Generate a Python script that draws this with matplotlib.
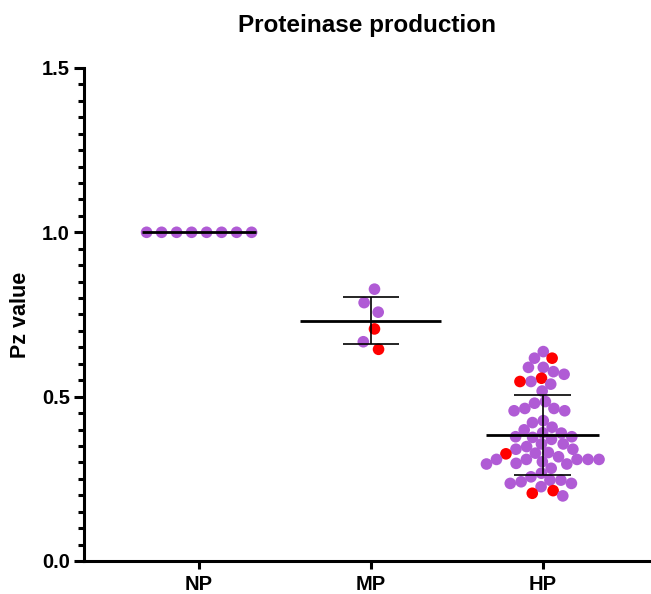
import numpy as np
import matplotlib
matplotlib.use("Agg")
import matplotlib.pyplot as plt
from matplotlib.ticker import MultipleLocator, FormatStrFormatter

plt.rcParams['font.family'] = ['Liberation Sans', 'DejaVu Sans']
plt.rcParams['font.weight'] = 'bold'

groups = ['NP', 'MP', 'HP']

np_purple = [1.0, 1.0, 1.0, 1.0, 1.0, 1.0, 1.0, 1.0]
np_red = []

mp_purple = [0.827, 0.786, 0.757, 0.667]
mp_red = [0.706, 0.644]

hp_purple = [0.637, 0.617, 0.589, 0.589, 0.576, 0.568, 0.546, 0.538, 0.517,
             0.485, 0.480, 0.464, 0.464, 0.457, 0.457, 0.427, 0.421, 0.407,
             0.399, 0.390, 0.389, 0.378, 0.378, 0.376, 0.370,
             0.356, 0.356, 0.348, 0.340, 0.340, 0.330, 0.328, 0.317,
             0.309, 0.309, 0.309, 0.309, 0.309, 0.302, 0.297, 0.295, 0.295, 0.282,
             0.267, 0.256, 0.246, 0.246, 0.241, 0.236, 0.236, 0.226, 0.198]
hp_red = [0.617, 0.556, 0.546, 0.326, 0.214, 0.206]

purple = '#B05BD5'
red = '#FF0000'

data = [(np_purple, np_red), (mp_purple, mp_red), (hp_purple, hp_red)]
spacing_px = [15.0, 17.0, 11.0]     # min distance between dot centres
mean_halfwidth = [0.33, 0.41, 0.33]
cap_halfwidth = 0.165


def swarm_offsets(y_px, d):
    # greedy beeswarm in pixel space, points placed in given order
    placed = []
    for y in y_px:
        cands = [0.0]
        for px, py in placed:
            dy = y - py
            if abs(dy) < d:
                dx = np.sqrt(d * d - dy * dy)
                cands += [px - dx, px + dx]
        cands.sort(key=abs)
        for c in cands:
            if all((c - px) ** 2 + (y - py) ** 2 >= d * d - 1e-6 for px, py in placed):
                placed.append((c, y))
                break
    xs = np.array([p[0] for p in placed])
    xs -= (xs.min() + xs.max()) / 2
    return xs


fig = plt.figure(figsize=(6.51, 5.94), dpi=100)
ax = fig.add_axes([0.129, 0.0556, 0.871, 0.830])
ax.set_xlim(-0.67, 2.63)
ax.set_ylim(0, 1.5)

px_per_x = ax.transData.transform((1, 0))[0] - ax.transData.transform((0, 0))[0]

for i, (pur, rd) in enumerate(data):
    vals = np.array(pur + rd)
    cols = np.array([purple] * len(pur) + [red] * len(rd))
    order = np.argsort(-vals, kind='stable')
    vals, cols = vals[order], cols[order]
    y_px = ax.transData.transform(np.column_stack([np.full(len(vals), i), vals]))[:, 1]
    dx = swarm_offsets(y_px, spacing_px[i])
    ax.scatter(i + dx / px_per_x, vals, s=70, c=list(cols), linewidths=0, zorder=2)

    m = vals.mean()
    sd = vals.std(ddof=1)
    ax.hlines(m, i - mean_halfwidth[i], i + mean_halfwidth[i], color='black', lw=2.0, zorder=3)
    if sd > 0:
        ax.vlines(i, m - sd, m + sd, color='black', lw=1.2, zorder=3)
        ax.hlines([m - sd, m + sd], i - cap_halfwidth, i + cap_halfwidth, color='black', lw=1.2, zorder=3)

ax.spines['top'].set_visible(False)
ax.spines['right'].set_visible(False)
ax.spines['left'].set_linewidth(2.2)
ax.spines['bottom'].set_linewidth(2.2)

ax.set_xticks(range(len(groups)))
ax.set_xticklabels(groups)
ax.yaxis.set_major_locator(MultipleLocator(0.5))
ax.yaxis.set_minor_locator(MultipleLocator(0.05))
ax.yaxis.set_major_formatter(FormatStrFormatter('%.1f'))
ax.tick_params(axis='y', which='major', length=7, width=2.2, labelsize=14.5, pad=3)
ax.tick_params(axis='y', which='minor', length=4, width=2.2)
ax.tick_params(axis='x', which='major', length=6, width=2.2, labelsize=14.5, pad=4)

ax.set_ylabel('Pz value', fontsize=15.5, fontweight='bold', labelpad=8)
ax.set_title('Proteinase production', fontsize=17.5, fontweight='bold', pad=26)

fig.savefig('out.png', dpi=100)
